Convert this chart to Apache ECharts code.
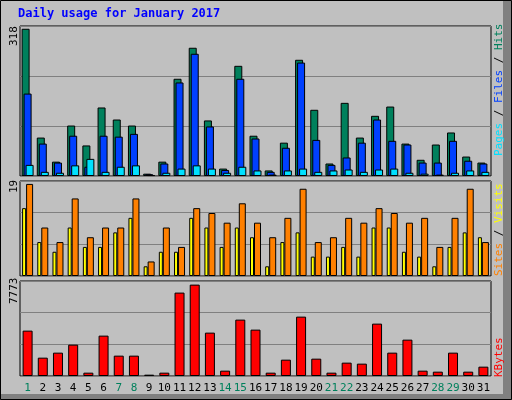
<!DOCTYPE html>
<html><head><meta charset="utf-8">
<script src="https://cdn.jsdelivr.net/npm/echarts@6/dist/echarts.min.js"></script>
<style>html,body{margin:0;padding:0;background:#c0c0c0}#c{width:512px;height:400px}</style>
</head><body><div id="c"></div>
<script>
const days = Array.from({length:31},(_,i)=>String(i+1));
const weekend = ['1','7','8','14','15','21','22','28','29'];
const hits  = [318,83,31,109,66,148,122,109,5,31,210,277,120,16,238,87,12,72,251,143,27,158,83,130,150,70,35,68,94,42,29];
const files = [178,70,29,87,20,87,85,91,4,27,202,264,107,13,210,81,9,61,245,78,24,40,72,122,76,68,29,29,76,33,27];
const pages = [24,9,7,23,37,9,20,23,2,7,16,23,16,7,20,12,3,12,16,9,12,14,9,14,16,7,5,3,7,12,9];
const sites = [14,7,5,10,6,6,9,12,2,5,5,12,10,6,10,8,2,7,9,4,4,6,4,10,10,5,4,2,6,9,8];
const visits= [19,10,7,16,8,10,10,16,3,10,6,14,13,11,15,11,8,12,18,7,8,12,11,14,13,11,12,6,12,18,7];
const kbytes= [3858,1560,1986,2667,284,3433,1731,1731,113,284,7093,7773,3688,454,4795,3944,284,1390,5050,1475,284,1135,1050,4454,1986,3092,454,369,1986,369,794];

const ch = echarts.init(document.getElementById('c'));
const font = 'DejaVu Sans Mono';
const grids = [{top:26,height:150},{top:181,height:95},{top:281,height:95}].map(g=>({left:20,right:21,top:g.top,height:g.height,show:true,backgroundColor:'#c0c0c0',borderColor:'#000',borderWidth:1}));
const xAxes = [0,1,2].map(i=>({type:'category',gridIndex:i,data:days,axisLine:{show:false},axisTick:{show:false},
  axisLabel:{show:i===2,fontFamily:font,fontSize:11,margin:7,interval:0,color:(v)=>weekend.includes(v)?'#00805c':'#000'}}));
const ymax=[324,19.6,8080];
const yAxes = [0,1,2].map(i=>({type:'value',gridIndex:i,min:0,max:ymax[i],interval:ymax[i]/3,axisLabel:{show:false},axisLine:{show:false},axisTick:{show:false},splitLine:{lineStyle:{color:'#808080',width:1}}}));
const bs=(c)=>({color:c,borderColor:'#000',borderWidth:1});
ch.setOption({
  animation:false,
  grid:grids,xAxis:xAxes,yAxis:yAxes,
  series:[
    {type:'bar',xAxisIndex:0,yAxisIndex:0,data:hits,barWidth:8,barGap:'-75%',itemStyle:bs('#00805c')},
    {type:'bar',xAxisIndex:0,yAxisIndex:0,data:files,barWidth:8,barGap:'-75%',itemStyle:bs('#0040ff')},
    {type:'bar',xAxisIndex:0,yAxisIndex:0,data:pages,barWidth:8,barGap:'-75%',itemStyle:bs('#00e0ff')},
    {type:'bar',xAxisIndex:1,yAxisIndex:1,data:sites,barWidth:4,barGap:'0%',itemStyle:bs('#ffff00')},
    {type:'bar',xAxisIndex:1,yAxisIndex:1,data:visits,barWidth:7,barGap:'0%',itemStyle:bs('#ff8000')},
    {type:'bar',xAxisIndex:2,yAxisIndex:2,data:kbytes,barWidth:10,itemStyle:bs('#ff0000')}
  ],
  graphic:[
    {type:'rect',shape:{x:503,y:0,width:9,height:400},style:{fill:'#808080'},z:-10},
    {type:'rect',shape:{x:0,y:394,width:512,height:6},style:{fill:'#808080'},z:-10},
    {type:'rect',shape:{x:0.5,y:0.5,width:511,height:399},style:{fill:'none',stroke:'#000',lineWidth:1},z:-5},
    {type:'text',left:18,top:8,style:{text:'Daily usage for January 2017',fill:'#0000ff',font:'bold 12px "DejaVu Sans Mono"'}},
    {type:'text',x:9,y:46,rotation:Math.PI/2,style:{text:String(hits[0]),fill:'#000',font:'11px "DejaVu Sans Mono"'}},
    {type:'text',x:9,y:193,rotation:Math.PI/2,style:{text:String(Math.max(...visits)),fill:'#000',font:'11px "DejaVu Sans Mono"'}},
    {type:'text',x:9,y:304,rotation:Math.PI/2,style:{text:String(Math.max(...kbytes)),fill:'#000',font:'11px "DejaVu Sans Mono"'}},
    {type:'text',x:494,y:156,rotation:Math.PI/2,style:{text:'{p|Pages}{k| / }{f|Files}{k| / }{h|Hits}',font:'11px "DejaVu Sans Mono"',
      rich:{p:{fill:'#00e0ff',font:'11px "DejaVu Sans Mono"'},k:{fill:'#000',font:'11px "DejaVu Sans Mono"'},f:{fill:'#0040ff',font:'11px "DejaVu Sans Mono"'},h:{fill:'#00805c',font:'11px "DejaVu Sans Mono"'}}}},
    {type:'text',x:494,y:276,rotation:Math.PI/2,style:{text:'{s|Sites}{k| / }{v|Visits}',font:'11px "DejaVu Sans Mono"',
      rich:{s:{fill:'#ff8000',font:'11px "DejaVu Sans Mono"'},k:{fill:'#000',font:'11px "DejaVu Sans Mono"'},v:{fill:'#ffff00',font:'11px "DejaVu Sans Mono"'}}}},
    {type:'text',x:494,y:377,rotation:Math.PI/2,style:{text:'KBytes',fill:'#ff0000',font:'11px "DejaVu Sans Mono"'}}
  ]
});
</script></body></html>
